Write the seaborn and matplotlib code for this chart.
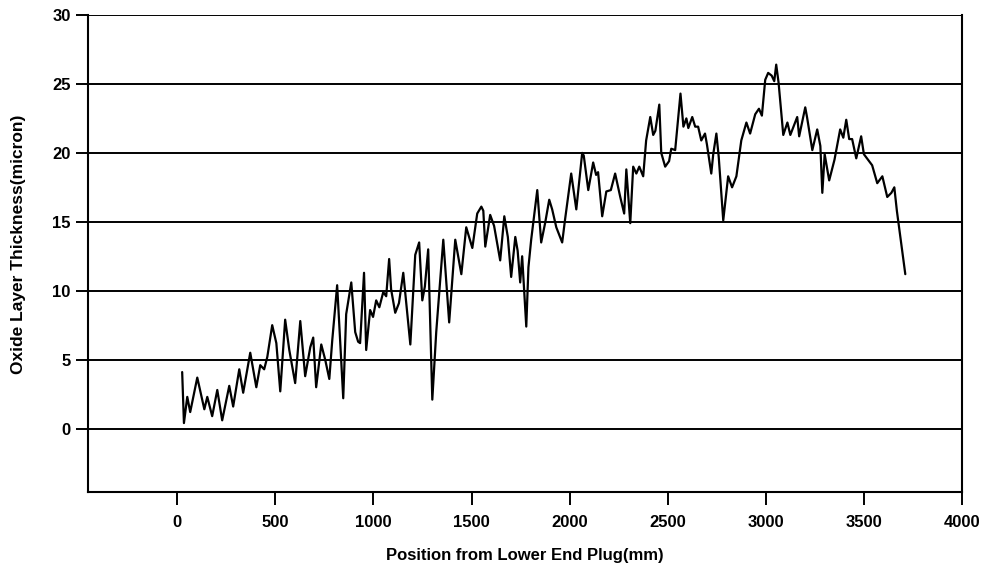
import matplotlib
matplotlib.use("Agg")
import matplotlib.pyplot as plt
import seaborn as sns
import pandas as pd

position_mm = [25, 34, 51, 66, 102, 138, 153, 178, 204, 229, 265, 285, 316, 336, 372, 403, 423, 443, 459, 484,
               505, 525, 550, 571, 601, 627, 652, 678, 693, 708, 734, 754, 775, 790, 815, 828, 846, 861, 887, 907,
               922, 932, 952, 963, 983, 998, 1014, 1030, 1050, 1065, 1080, 1090, 1111, 1130, 1152, 1188, 1213, 1233,
               1249, 1262, 1279, 1300, 1320, 1356, 1386, 1417, 1448, 1473, 1504, 1529, 1550, 1560, 1570, 1595, 1615,
               1646, 1667, 1685, 1702, 1723, 1735, 1748, 1758, 1779, 1790, 1804, 1835, 1855, 1875, 1896, 1911, 1932,
               1962, 1977, 2008, 2034, 2064, 2072, 2095, 2120, 2135, 2145, 2166, 2187, 2210, 2232, 2258, 2278, 2289,
               2309, 2324, 2340, 2355, 2375, 2390, 2411, 2426, 2437, 2457, 2467, 2487, 2507, 2518, 2538, 2565, 2580,
               2595, 2605, 2625, 2640, 2655, 2671, 2690, 2700, 2722, 2732, 2748, 2760, 2783, 2808, 2828, 2850, 2875,
               2901, 2920, 2946, 2965, 2980, 2997, 3012, 3030, 3043, 3053, 3065, 3089, 3110, 3125, 3160, 3170, 3201,
               3210, 3237, 3262, 3278, 3288, 3300, 3323, 3350, 3379, 3395, 3410, 3425, 3440, 3461, 3486, 3500, 3542,
               3568, 3594, 3619, 3640, 3655, 3668, 3711]
thickness_micron = [4.1, 0.4, 2.3, 1.2, 3.7, 1.4, 2.3, 0.9, 2.8, 0.6, 3.1, 1.6, 4.3, 2.6, 5.5, 3.0, 4.6, 4.3, 5.2, 7.5,
                    6.2, 2.7, 7.9, 5.7, 3.3, 7.8, 3.8, 5.9, 6.6, 3.0, 6.1, 5.0, 3.6, 6.4, 10.4, 6.9, 2.2, 8.3, 10.6, 7.0,
                    6.3, 6.2, 11.3, 5.7, 8.6, 8.1, 9.3, 8.8, 9.9, 9.6, 12.3, 10.1, 8.4, 9.1, 11.3, 6.1, 12.6, 13.5,
                    9.3, 10.3, 13.0, 2.1, 7.0, 13.7, 7.7, 13.7, 11.2, 14.6, 13.1, 15.6, 16.1, 15.8, 13.2, 15.5, 14.7,
                    12.2, 15.4, 13.9, 11.0, 13.9, 12.9, 10.6, 12.5, 7.4, 11.7, 13.7, 17.3, 13.5, 14.9, 16.6, 15.9, 14.6,
                    13.5, 15.2, 18.5, 15.9, 20.0, 19.8, 17.3, 19.3, 18.4, 18.6, 15.4, 17.2, 17.3, 18.5, 16.8, 15.6, 18.8,
                    14.9, 19.0, 18.5, 19.0, 18.3, 20.9, 22.6, 21.3, 21.6, 23.5, 20.0, 19.0, 19.4, 20.3, 20.2, 24.3, 21.9,
                    22.5, 21.8, 22.6, 21.9, 21.9, 20.9, 21.4, 20.6, 18.5, 19.9, 21.4, 19.7, 15.1, 18.3, 17.5, 18.3, 20.9,
                    22.2, 21.4, 22.8, 23.2, 22.7, 25.3, 25.8, 25.6, 25.2, 26.4, 25.1, 21.3, 22.2, 21.3, 22.6, 21.2, 23.3,
                    22.6, 20.2, 21.7, 20.5, 17.1, 19.9, 18.0, 19.5, 21.7, 21.1, 22.4, 21.0, 21.0, 19.6, 21.2, 19.9, 19.1,
                    17.8, 18.3, 16.8, 17.1, 17.5, 15.8, 11.2]

x_ticks = [0, 500, 1000, 1500, 2000, 2500, 3000, 3500, 4000]
y_ticks = [0, 5, 10, 15, 20, 25, 30]
x_label = "Position from Lower End Plug(mm)"
y_label = "Oxide Layer Thickness(micron)"

sns.set_theme(style="white")
plt.rcParams['font.family'] = ['Liberation Sans', 'DejaVu Sans']

df = pd.DataFrame({"pos": position_mm, "ox": thickness_micron})

fig = plt.figure(figsize=(9.86, 5.70), dpi=100)
ax = fig.add_axes([88 / 986, 1 - 492 / 570, (962 - 88) / 986, (492 - 15) / 570])

sns.lineplot(data=df, x="pos", y="ox", ax=ax, color="black", linewidth=1.6,
             sort=False, estimator=None, zorder=3)

ax.set_xlim(-455, 4000)
ax.set_ylim(-4.6, 30)
ax.set_xticks(x_ticks)
ax.set_yticks(y_ticks)
ax.set_xticklabels([str(t) for t in x_ticks], fontweight="bold", fontsize=12)
ax.set_yticklabels([str(t) for t in y_ticks], fontweight="bold", fontsize=12)

ax.yaxis.grid(True, color="black", linewidth=1.4)
ax.xaxis.grid(False)
ax.set_axisbelow(True)

ax.tick_params(axis="y", direction="out", length=9, width=1.4, pad=3.5, colors="black", left=True)
ax.tick_params(axis="x", direction="out", length=9, width=1.4, pad=7.5, colors="black", bottom=True)

for side in ["left", "right", "bottom"]:
    ax.spines[side].set_visible(True)
    ax.spines[side].set_color("black")
    ax.spines[side].set_linewidth(1.5)
ax.spines["top"].set_visible(False)

ax.set_xlabel(x_label, fontweight="bold", fontsize=12, labelpad=13, color="black")
ax.set_ylabel(y_label, fontweight="bold", fontsize=12.5, color="black")
ax.yaxis.set_label_coords(-62 / 874, 0.52)

fig.savefig("out.png", dpi=100, facecolor="white")
